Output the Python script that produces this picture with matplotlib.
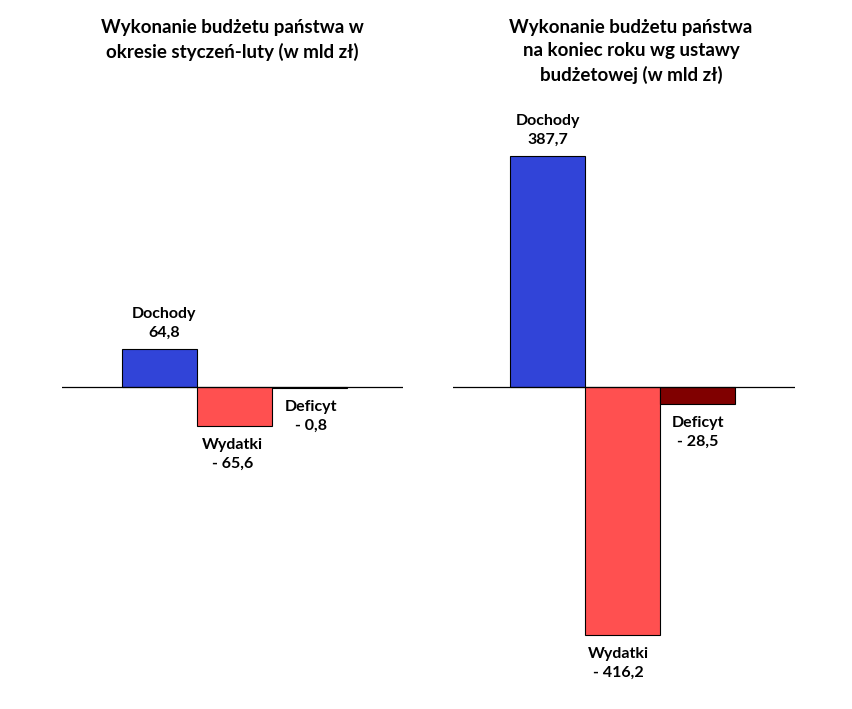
import matplotlib.pyplot as plt
import numpy as np

plt.rcParams['font.family'] = ['Lato', 'DejaVu Sans']

categories = ["Dochody", "Wydatki", "Deficyt"]
left_values = [64.8, -65.6, -0.8]
right_values = [387.7, -416.2, -28.5]
left_labels = ["64,8", "- 65,6", "- 0,8"]
right_labels = ["387,7", "- 416,2", "- 28,5"]
left_title = "Wykonanie budżetu państwa w\nokresie styczeń-luty (w mld zł)"
right_title = "Wykonanie budżetu państwa\nna koniec roku wg ustawy\nbudżetowej (w mld zł)"

left_colors = ["#3144d8", "#ff5050", "#800000"]
right_colors = ["#3144d8", "#ff5050", "#800000"]

fig = plt.figure(figsize=(8.52, 7.09), dpi=100)
ax1 = fig.add_axes([0.0728, 0.0762, 0.4002, 0.7137])
ax2 = fig.add_axes([0.5317, 0.0762, 0.4014, 0.7137])


def draw(ax, values, labels, colors, dx, xlim):
    x = np.arange(len(values))
    ax.bar(x, values, width=1.0, color=colors, edgecolor="black", linewidth=0.8)
    ax.axhline(0, color="black", linewidth=0.9)
    for xi, v, cat, lab, off in zip(x, values, categories, labels, dx):
        if v > 0:
            ax.annotate(cat + "\n" + lab, (xi, v), xytext=(off, 9),
                        textcoords="offset pixels", ha="center", va="bottom",
                        fontsize=11.5, fontweight="bold", linespacing=1.45)
        else:
            ax.annotate(cat + "\n" + lab, (xi, v), xytext=(off, -12),
                        textcoords="offset pixels", ha="center", va="top",
                        fontsize=11.5, fontweight="bold", linespacing=1.45)
    ax.set_xlim(*xlim)
    ax.set_ylim(-450, 400)
    ax.axis("off")


draw(ax1, left_values, left_labels, left_colors, [5, -2, 2], (-1.3, 3.25))
draw(ax2, right_values, right_labels, right_colors, [0, -4, 0], (-1.26, 3.3))

fig.text(232 / 852, 1 - 19 / 709, left_title, ha="center", va="top",
         fontsize=13.5, fontweight="bold", linespacing=1.45)
fig.text(631 / 852, 1 - 19 / 709, right_title, ha="center", va="top",
         fontsize=13.5, fontweight="bold", linespacing=1.45)

fig.savefig("out.png", dpi=100, facecolor="white")
